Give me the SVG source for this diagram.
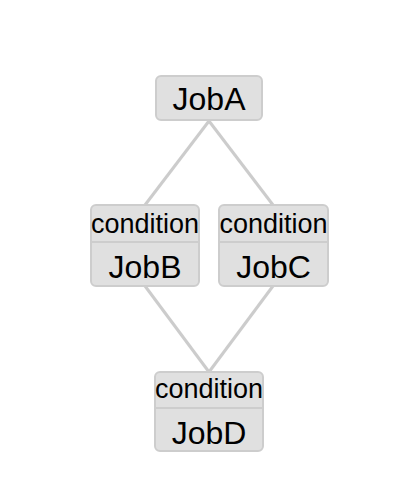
<svg xmlns="http://www.w3.org/2000/svg" width="400" height="500" viewBox="0 0 400 500">
<style>
.box{fill:#e0e0e0;stroke:#cdcdcd;stroke-width:2}
.div{stroke:#cdcdcd;stroke-width:2}
.edge{stroke:#cccccc;stroke-width:3;fill:none}
.name{font-family:"Liberation Sans",Arial,sans-serif;font-size:32px;fill:#000;text-anchor:middle}
.cond{font-family:"Liberation Sans",Arial,sans-serif;font-size:27px;fill:#000;text-anchor:middle}
</style>
<rect width="400" height="500" fill="#fff"/>
<g id="connectors">
<line class="edge" x1="209" y1="121" x2="145" y2="205"/>
<line class="edge" x1="209" y1="121" x2="273" y2="205"/>
<line class="edge" x1="145" y1="286" x2="209" y2="372"/>
<line class="edge" x1="273" y1="286" x2="209" y2="372"/>
</g>
<g id="JobA">
<rect class="box" x="156" y="76" width="106" height="44" rx="5"/>
<text class="name" x="209" y="110">JobA</text>
</g>
<g id="JobB">
<rect class="box" x="91" y="205" width="108" height="81" rx="5"/>
<line class="div" x1="91" y1="242" x2="199" y2="242"/>
<text class="cond" x="145" y="233">condition</text>
<text class="name" x="145" y="278">JobB</text>
</g>
<g id="JobC">
<rect class="box" x="219" y="205" width="109" height="81" rx="5"/>
<line class="div" x1="219" y1="242" x2="328" y2="242"/>
<text class="cond" x="273.5" y="233">condition</text>
<text class="name" x="273.5" y="278">JobC</text>
</g>
<g id="JobD">
<rect class="box" x="155" y="372" width="108" height="79" rx="5"/>
<line class="div" x1="155" y1="408" x2="263" y2="408"/>
<text class="cond" x="209" y="398">condition</text>
<text class="name" x="209" y="444">JobD</text>
</g>
</svg>
